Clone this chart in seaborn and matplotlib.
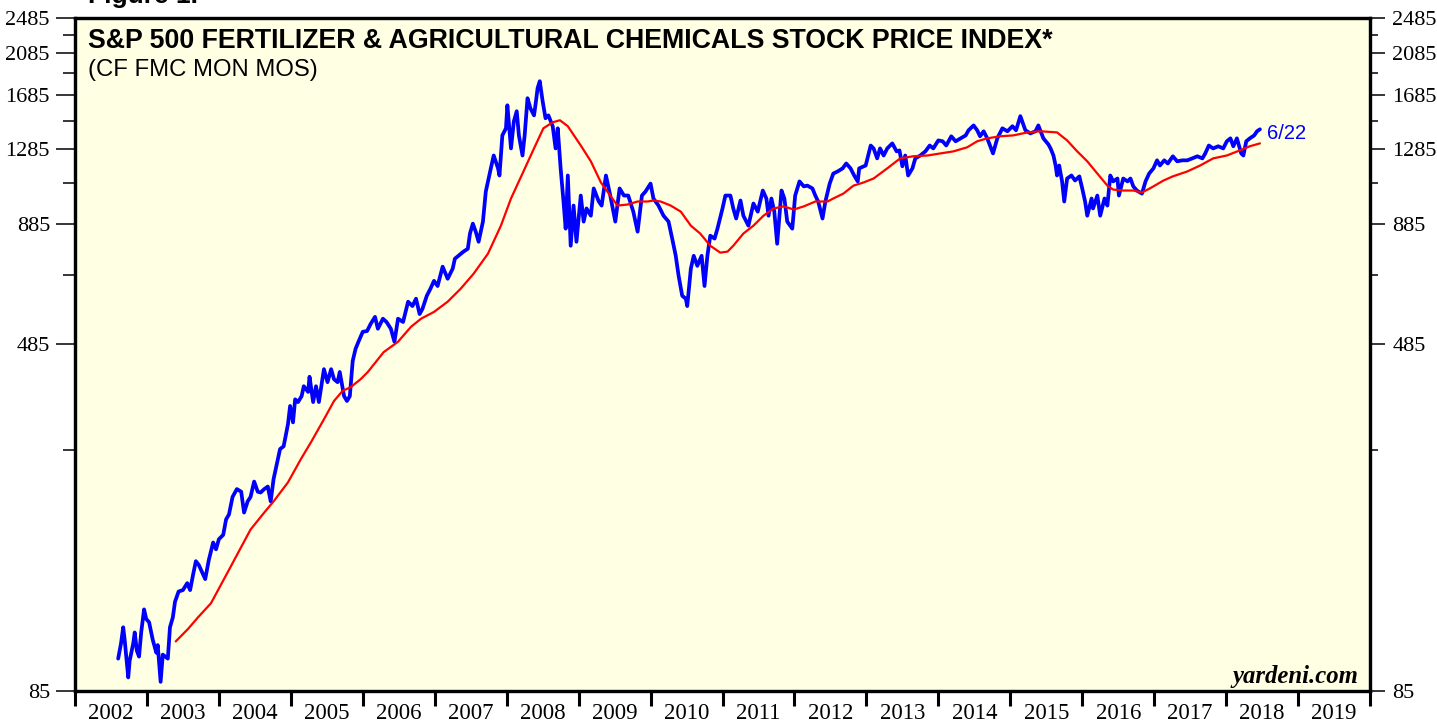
import matplotlib
matplotlib.use("Agg")
import matplotlib.pyplot as plt
import seaborn as sns
import pandas as pd
from matplotlib.ticker import FixedLocator, FixedFormatter, NullFormatter

# weekly index (decimal year, index level)
price_dates = [
    2002.60, 2002.64, 2002.67, 2002.69, 2002.74, 2002.76, 2002.81, 2002.83, 2002.86, 2002.89,
    2002.92, 2002.96, 2002.99, 2003.03, 2003.08, 2003.13, 2003.15, 2003.19, 2003.22, 2003.29,
    2003.32, 2003.36, 2003.39, 2003.44, 2003.50, 2003.56, 2003.60, 2003.64, 2003.68, 2003.72,
    2003.76, 2003.81, 2003.86, 2003.92, 2003.96, 2004.00, 2004.06, 2004.10, 2004.14, 2004.19,
    2004.25, 2004.31, 2004.35, 2004.40, 2004.44, 2004.49, 2004.54, 2004.58, 2004.63, 2004.68,
    2004.72, 2004.76, 2004.82, 2004.85, 2004.90, 2004.96, 2004.99, 2005.03, 2005.06, 2005.10,
    2005.15, 2005.18, 2005.24, 2005.26, 2005.31, 2005.35, 2005.39, 2005.46, 2005.51, 2005.56,
    2005.60, 2005.65, 2005.68, 2005.74, 2005.78, 2005.82, 2005.86, 2005.90, 2005.94, 2006.00,
    2006.06, 2006.11, 2006.17, 2006.21, 2006.28, 2006.33, 2006.39, 2006.44, 2006.49, 2006.56,
    2006.63, 2006.69, 2006.74, 2006.79, 2006.83, 2006.89, 2006.94, 2006.99, 2007.04, 2007.11,
    2007.18, 2007.25, 2007.28, 2007.33, 2007.40, 2007.46, 2007.49, 2007.53, 2007.57, 2007.61,
    2007.67, 2007.71, 2007.74, 2007.78, 2007.82, 2007.88, 2007.90, 2007.94, 2007.99, 2008.01,
    2008.06, 2008.10, 2008.14, 2008.17, 2008.22, 2008.25, 2008.29, 2008.33, 2008.38, 2008.40,
    2008.43, 2008.46, 2008.50, 2008.54, 2008.58, 2008.64, 2008.68, 2008.71, 2008.75, 2008.79,
    2008.82, 2008.85, 2008.89, 2008.93, 2008.97, 2009.03, 2009.07, 2009.11, 2009.17, 2009.21,
    2009.28, 2009.32, 2009.38, 2009.44, 2009.51, 2009.57, 2009.63, 2009.69, 2009.76, 2009.82,
    2009.88, 2009.93, 2010.00, 2010.04, 2010.11, 2010.18, 2010.25, 2010.31, 2010.35, 2010.39,
    2010.44, 2010.49, 2010.51, 2010.56, 2010.60, 2010.65, 2010.71, 2010.75, 2010.79, 2010.83,
    2010.89, 2010.93, 2011.00, 2011.04, 2011.11, 2011.15, 2011.19, 2011.25, 2011.29, 2011.36,
    2011.43, 2011.49, 2011.56, 2011.61, 2011.64, 2011.68, 2011.72, 2011.76, 2011.82, 2011.86,
    2011.90, 2011.97, 2012.01, 2012.07, 2012.13, 2012.18, 2012.25, 2012.29, 2012.33, 2012.39,
    2012.43, 2012.49, 2012.54, 2012.60, 2012.67, 2012.72, 2012.78, 2012.83, 2012.88, 2012.90,
    2012.99, 2013.06, 2013.10, 2013.15, 2013.19, 2013.24, 2013.29, 2013.36, 2013.42, 2013.46,
    2013.50, 2013.54, 2013.58, 2013.64, 2013.68, 2013.75, 2013.82, 2013.88, 2013.93, 2014.00,
    2014.06, 2014.11, 2014.18, 2014.24, 2014.31, 2014.38, 2014.42, 2014.49, 2014.54, 2014.58,
    2014.63, 2014.68, 2014.76, 2014.82, 2014.89, 2014.96, 2015.03, 2015.08, 2015.14, 2015.21,
    2015.28, 2015.35, 2015.39, 2015.46, 2015.53, 2015.56, 2015.60, 2015.63, 2015.65, 2015.68,
    2015.72, 2015.75, 2015.79, 2015.85, 2015.90, 2015.96, 2016.00, 2016.04, 2016.07, 2016.13,
    2016.15, 2016.21, 2016.25, 2016.31, 2016.35, 2016.39, 2016.43, 2016.49, 2016.51, 2016.57,
    2016.63, 2016.67, 2016.71, 2016.76, 2016.83, 2016.88, 2016.93, 2016.99, 2017.04, 2017.08,
    2017.14, 2017.19, 2017.26, 2017.32, 2017.39, 2017.46, 2017.53, 2017.60, 2017.67, 2017.71,
    2017.76, 2017.82, 2017.89, 2017.96, 2018.01, 2018.06, 2018.10, 2018.15, 2018.21, 2018.24,
    2018.28, 2018.33, 2018.39, 2018.43, 2018.47,
]
price_values = [
    100, 108, 117, 110, 91, 99, 108, 114, 104, 101,
    114, 128, 122, 120, 110, 103, 107, 89, 102, 100,
    117, 123, 133, 140, 141, 146, 141, 152, 163, 160,
    155, 149, 164, 179, 173, 182, 186, 201, 206, 225,
    234, 231, 208, 220, 225, 243, 231, 230, 234, 237,
    220, 246, 272, 286, 290, 324, 355, 327, 367, 362,
    373, 392, 381, 411, 362, 392, 362, 427, 400, 427,
    406, 400, 421, 373, 364, 373, 445, 473, 490, 515,
    517, 536, 555, 523, 550, 541, 523, 490, 550, 541,
    599, 586, 608, 563, 578, 617, 639, 665, 648, 714,
    672, 707, 743, 754, 770, 781, 843, 886, 851, 809,
    895, 1041, 1095, 1169, 1247, 1169, 1128, 1379, 1429, 1604,
    1292, 1480, 1557, 1379, 1247, 1379, 1662, 1580, 1525, 1604,
    1748, 1810, 1637, 1503, 1525, 1444, 1292, 1429, 1169, 990,
    864, 1128, 793, 970, 809, 1020, 895, 956, 922, 1057,
    990, 970, 1128, 1020, 895, 1057, 1020, 1020, 941, 851,
    1020, 1041, 1083, 1005, 970, 922, 895, 809, 754, 682,
    617, 608, 586, 707, 754, 717, 754, 648, 754, 834,
    822, 864, 956, 1020, 1020, 956, 909, 995, 922, 877,
    980, 941, 1046, 1005, 922, 1005, 941, 801, 1046, 1005,
    895, 864, 1020, 1095, 1068, 1072, 1057, 1020, 990, 909,
    990, 1083, 1139, 1151, 1169, 1198, 1169, 1128, 1095, 1169,
    1186, 1311, 1292, 1229, 1292, 1247, 1292, 1325, 1273, 1279,
    1181, 1247, 1128, 1169, 1229, 1247, 1273, 1311, 1292, 1345,
    1339, 1311, 1373, 1339, 1359, 1379, 1415, 1450, 1415, 1373,
    1408, 1359, 1260, 1359, 1429, 1408, 1444, 1415, 1519, 1415,
    1393, 1408, 1450, 1359, 1318, 1292, 1247, 1186, 1128, 1186,
    1095, 990, 1111, 1128, 1100, 1123, 1057, 990, 922, 1005,
    956, 1020, 922, 1005, 970, 1128, 1095, 1111, 1020, 1111,
    1095, 1111, 1068, 1046, 1030, 1095, 1139, 1169, 1217, 1186,
    1217, 1198, 1242, 1211, 1217, 1217, 1229, 1242, 1229, 1260,
    1311, 1292, 1306, 1292, 1339, 1359, 1306, 1359, 1260, 1247,
    1339, 1359, 1379, 1408, 1422,
]

# 52-week moving average
ma_dates = [
    2003.40, 2003.57, 2003.71, 2003.89, 2004.13, 2004.31, 2004.44, 2004.63, 2004.76, 2004.96,
    2005.14, 2005.28, 2005.46, 2005.60, 2005.72, 2005.83, 2005.97, 2006.07, 2006.29, 2006.49,
    2006.67, 2006.81, 2006.99, 2007.18, 2007.36, 2007.54, 2007.74, 2007.92, 2008.06, 2008.24,
    2008.38, 2008.51, 2008.64, 2008.74, 2008.85, 2009.03, 2009.17, 2009.31, 2009.44, 2009.54,
    2009.68, 2009.82, 2009.96, 2010.04, 2010.14, 2010.28, 2010.42, 2010.56, 2010.69, 2010.83,
    2010.97, 2011.07, 2011.15, 2011.29, 2011.43, 2011.57, 2011.71, 2011.85, 2011.99, 2012.13,
    2012.29, 2012.46, 2012.54, 2012.68, 2012.82, 2012.96, 2013.10, 2013.29, 2013.47, 2013.65,
    2013.85, 2014.03, 2014.21, 2014.40, 2014.54, 2014.68, 2014.86, 2015.04, 2015.24, 2015.42,
    2015.65, 2015.79, 2015.93, 2016.07, 2016.21, 2016.35, 2016.43, 2016.57, 2016.71, 2016.83,
    2016.94, 2017.13, 2017.26, 2017.46, 2017.64, 2017.82, 2018.01, 2018.19, 2018.33, 2018.47,
]
ma_values = [
    109, 116, 123, 132, 155, 175, 191, 208, 220, 242,
    272, 296, 332, 364, 383, 390, 406, 421, 465, 490,
    528, 550, 569, 599, 639, 689, 762, 877, 1005, 1157,
    1292, 1429, 1473, 1488, 1444, 1311, 1211, 1089, 1020, 970,
    975, 990, 990, 995, 990, 970, 941, 877, 843, 793,
    766, 770, 793, 843, 877, 922, 956, 966, 951, 966,
    990, 990, 1005, 1030, 1072, 1089, 1111, 1169, 1229, 1242,
    1247, 1260, 1273, 1299, 1339, 1359, 1373, 1379, 1400, 1408,
    1400, 1345, 1273, 1211, 1139, 1072, 1051, 1046, 1046, 1036,
    1057, 1100, 1123, 1151, 1186, 1229, 1247, 1279, 1306, 1325,
]

y_major = [85, 485, 885, 1285, 1685, 2085, 2485]
y_minor = [285, 685, 1085, 1485, 1885, 2285]
years = list(range(2002, 2020))

price = pd.DataFrame({"date": price_dates, "value": price_values})
ma = pd.DataFrame({"date": ma_dates, "value": ma_values})

sns.set_style("ticks")
plt.rcParams["font.family"] = ["Liberation Serif", "DejaVu Serif"]
plt.rcParams["text.color"] = "black"
plt.rcParams["xtick.color"] = "black"
plt.rcParams["ytick.color"] = "black"

W, H = 1437, 721
fig = plt.figure(figsize=(W / 100, H / 100), dpi=100)
fig.patch.set_facecolor("white")
ax = fig.add_axes([75 / W, 30 / H, 1295 / W, 673 / H])
ax.set_facecolor("#FFFFE3")
ax.set_yscale("log")

sns.lineplot(data=price, x="date", y="value", ax=ax, color="#0000FF",
             linewidth=2.7, estimator=None, sort=False, zorder=3)
sns.lineplot(data=ma, x="date", y="value", ax=ax, color="#FF0000",
             linewidth=1.6, estimator=None, sort=False, zorder=4)

ax.set_xlim(2002, 2020)
ax.set_ylim(85, 2485)
ax.set_xlabel("")
ax.set_ylabel("")

# y axis, left
ax.yaxis.set_major_locator(FixedLocator(y_major))
ax.yaxis.set_major_formatter(FixedFormatter([str(v) for v in y_major]))
ax.yaxis.set_minor_locator(FixedLocator(y_minor))
ax.yaxis.set_minor_formatter(NullFormatter())
ax.tick_params(axis="y", which="major", direction="out", length=14, width=1.1,
               pad=4, labelsize=16, labelcolor="black")
ax.tick_params(axis="y", which="minor", direction="out", length=9, width=1.1)

# y axis, right
ax2 = ax.twinx()
ax2.set_yscale("log")
ax2.set_ylim(85, 2485)
ax2.yaxis.set_major_locator(FixedLocator(y_major))
ax2.yaxis.set_major_formatter(FixedFormatter([str(v) for v in y_major]))
ax2.yaxis.set_minor_locator(FixedLocator(y_minor))
ax2.yaxis.set_minor_formatter(NullFormatter())
ax2.tick_params(axis="y", which="major", direction="out", length=11, width=1.1,
                pad=5, labelsize=16, labelcolor="black")
ax2.tick_params(axis="y", which="minor", direction="out", length=6, width=1.1)

# x axis: boundaries as ticks, year labels centred in each year
ax.xaxis.set_major_locator(FixedLocator(list(range(2002, 2021))))
ax.xaxis.set_major_formatter(NullFormatter())
ax.xaxis.set_minor_locator(FixedLocator([y + 0.5 for y in years]))
ax.xaxis.set_minor_formatter(FixedFormatter([str(y) for y in years]))
ax.tick_params(axis="x", which="major", direction="out", length=11, width=2.2)
ax.tick_params(axis="x", which="minor", length=0, pad=8.5, labelsize=16.5,
               labelcolor="black")

for a in (ax, ax2):
    for s in a.spines.values():
        s.set_visible(True)
        s.set_linewidth(2.3)
        s.set_color("black")

def px(x, y):
    return x / W, 1 - y / H

fig.text(*px(88, 3), "Figure 1.", fontsize=19, fontweight="bold",
         family="Liberation Sans", va="baseline")
fig.text(*px(88, 48), "S&P 500 FERTILIZER & AGRICULTURAL CHEMICALS STOCK PRICE INDEX*",
         fontsize=19.3, fontweight="bold", family="Liberation Sans", va="baseline")
fig.text(*px(88, 76), "(CF FMC MON MOS)", fontsize=17.2, family="Liberation Sans",
         va="baseline")
fig.text(*px(1267, 139), "6/22", fontsize=14.5, color="#0000FF",
         family="Liberation Sans", va="baseline")
fig.text(*px(1358, 683), "yardeni.com", fontsize=17.8, fontweight="bold",
         fontstyle="italic", family="Liberation Serif", ha="right", va="baseline")

fig.savefig("out.png", dpi=100)
